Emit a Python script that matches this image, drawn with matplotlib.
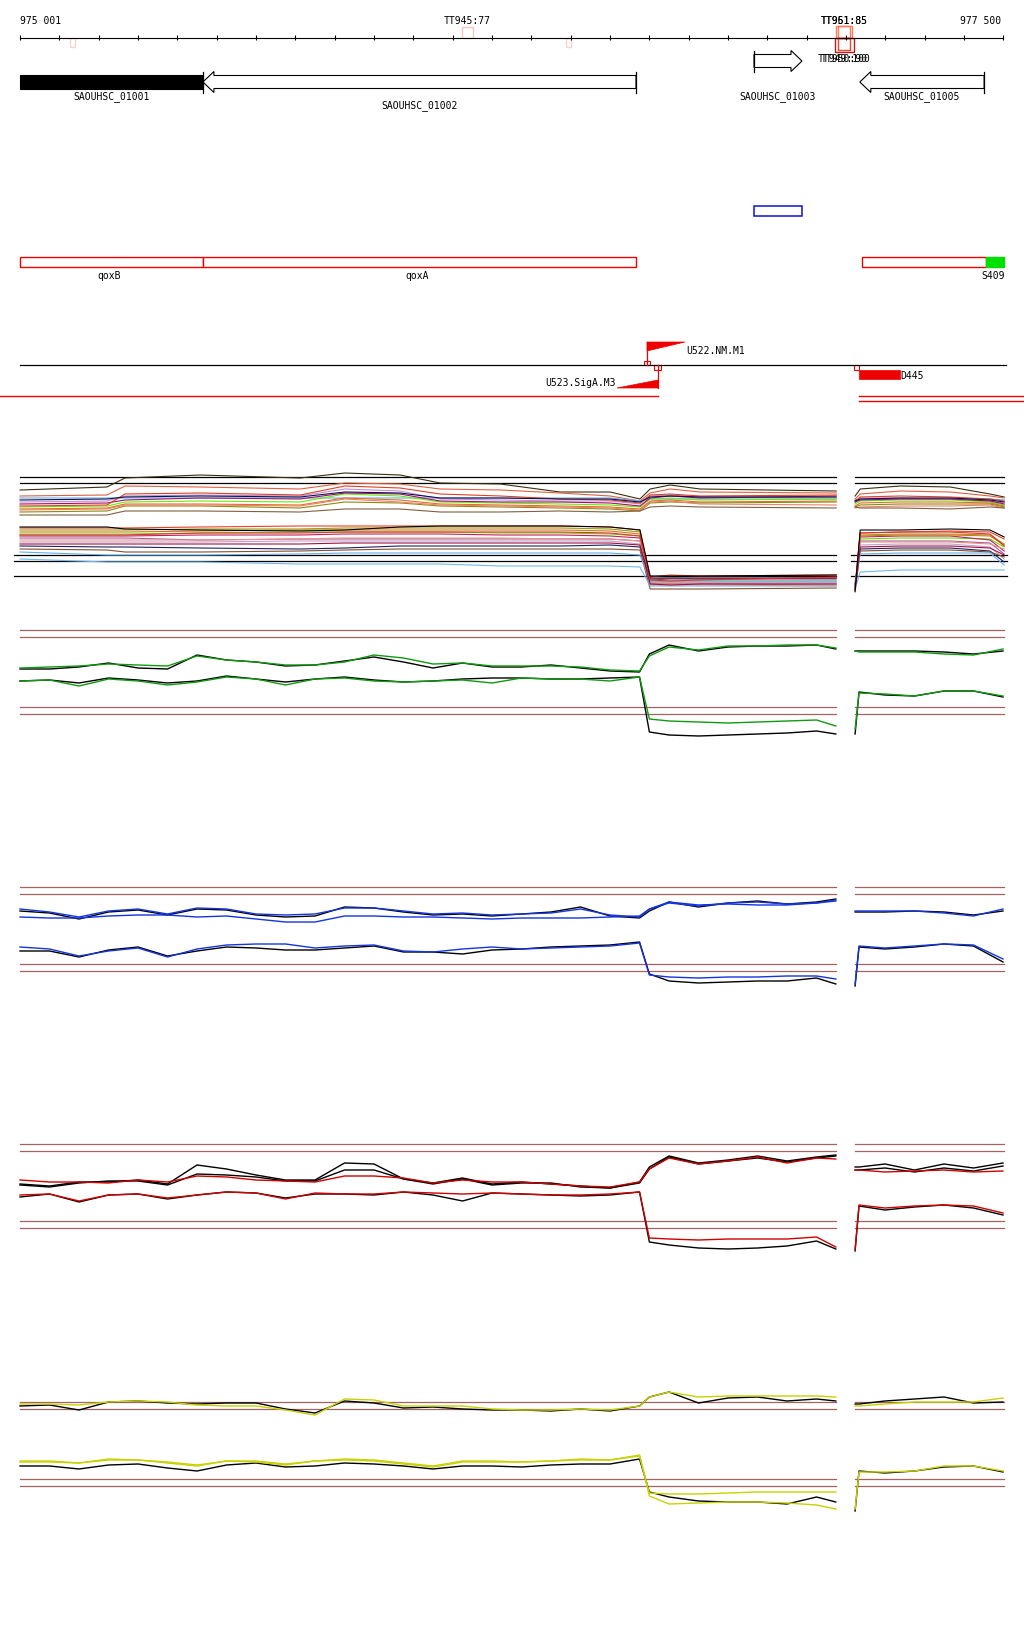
import matplotlib
matplotlib.use('Agg')
import matplotlib.pyplot as plt
from matplotlib.patches import Polygon, Rectangle

# ---------------- data ----------------
VIEW_START, VIEW_END = 975001, 977500

GENE_NAMES = ['SAOUHSC_01001', 'SAOUHSC_01002', 'SAOUHSC_01003', 'SAOUHSC_01005']
GENE_START = [974200, 975466, 976867, 977136]
GENE_END = [975466, 976567, 976989, 977452]
GENE_STRAND = ['-', '-', '+', '-']

TERM_NAMES = ['', 'TT945:77', '', 'TT951:85', 'TT961:85', 'TT949:100', 'TT950:90']
TERM_START = [975128, 976125, 976389, 977075, 977080, 977072, 977080]
TERM_END = [975141, 976153, 976402, 977116, 977111, 977121, 977111]
TERM_STRAND = ['-', '+', '-', '+', '+', '-', '-']
TERM_SCORE = [70, 77, 70, 85, 85, 100, 90]

REGION_START = [976867]
REGION_END = [976989]

OPERON_NAMES = ['qoxB', 'qoxA', '', 'S409']
OPERON_START = [974200, 975466, 977141, 977457]
OPERON_END = [975466, 976567, 977457, 977503]

TSS_NAMES = ['U522.NM.M1', 'U523.SigA.M3']
TSS_POS = [976595, 976623]
TSS_STRAND = ['+', '-']

DEL_NAMES = ['D445']
DEL_START = [977134]
DEL_END = [977238]

COV_START = [974950, 977134, 977134]
COV_END = [976623, 977560, 977560]
COV_LANE = [0, 0, 1]

# multi-sample track grid
T1X_L = [975001, 975222, 975268, 975459, 975713, 975827, 975967, 976069,
         976222, 976374, 976501, 976577, 976603, 976654, 976730, 977076]
T1X_R = [977124, 977137, 977239, 977366, 977467, 977503]
T1_THR = [122, 116, 44, 38, 23]

T1_U0 = [109,112,121,124,121,126,124,116,115,107,107,100,110,114,110,108, 103,110,113,112,105,102]
T1_U1 = [103,104,113,112,110,116,115,110,109,106,103,98,106,110,107,106, 100,105,108,107,103,101]
T1_U2 = [101,101,101,101,101,101,101,101,101,101,101,98,100,100,100,100, 99,100,100,100,100,99]
T1_U3 = [97,98,103,104,103,110,108,100,99,98,98,95,103,104,102,101, 97,101,101,100,98,96]
T1_U4 = [92,93,97,98,97,105,103,97,96,95,94,92,100,101,99,100, 95,98,99,99,97,94]
T1_U5 = [95,96,99,101,100,106,105,98,97,97,96,93,101,103,101,103, 97,99,100,100,98,95]
T1_U6 = [90,91,95,95,94,101,99,95,94,93,92,90,98,99,97,98, 93,96,97,97,96,93]
T1_U7 = [87,88,93,93,91,97,96,93,92,91,90,88,96,97,96,97, 92,94,95,95,95,92]
T1_U8 = [89,90,94,94,93,100,97,94,93,92,91,89,97,98,95,94, 91,92,93,93,94,91]
T1_U9 = [84,84,88,88,87,90,90,87,87,88,87,88,92,93,92,91, 92,91,91,90,92,91]
T1_U10 = [93,94,105,106,104,113,111,105,103,100,99,96,104,105,103,104, 98,102,103,102,100,98]
T1_U11 = [99,100,102,103,102,107,106,101,101,100,100,97,102,103,102,102, 98,100,101,101,99,97]

T1_L0 = [71,71,71,72,73,73,73,73,73,73,72,69,22,24,23,24, 10,66,67,68,67,60]
T1_L1 = [69,69,69,70,70,71,71,71,71,71,70,67,20,21,20,21, 12,64,65,65,64,55]
T1_L2 = [65,65,65,66,67,67,67,67,66,66,65,63,17,18,18,18, 14,60,61,61,60,52]
T1_L3 = [63,63,63,64,64,65,65,65,64,64,63,61,19,20,20,20, 12,62,63,63,59,48]
T1_L4 = [61,61,61,59,60,60,60,60,60,60,60,58,16,16,16,16, 10,58,58,58,56,45]
T1_L5 = [67,67,67,68,69,69,69,69,69,69,68,65,15,15,15,14, 8,63,64,64,63,54]
T1_L6 = [59,59,59,59,60,61,61,61,61,60,60,58,14,14,14,13, 11,57,57,57,55,50]
T1_L7 = [57,57,57,57,58,58,58,58,58,58,58,55,17,17,17,17, 12,54,55,55,52,40]
T1_L8 = [53,52,52,51,50,51,53,53,53,53,54,52,21,21,21,21, 15,50,51,51,48,37]
T1_L9 = [50,49,47,47,48,49,50,50,50,50,50,49,10,10,10,11, 7,48,49,49,47,42]
T1_L10 = [47,44,44,44,45,46,46,46,46,46,46,44,18,18,18,18, 17,45,46,46,46,34]
T1_L11 = [40,37,37,37,35,35,35,35,33,33,33,32,13,13,13,13, 10,27,29,29,29,29]
T1_L12 = [64,64,64,66,66,67,67,67,67,67,66,63,19,18,19,22, 12,66,67,67,65,53]
T1_L13 = [55,55,55,55,55,56,56,56,56,56,56,54,15,14,15,15, 10,52,53,53,51,44]
T1_L14 = [72,72,70,69,68,69,72,73,73,73,72,69,23,23,23,24, 8,69,69,70,69,62]

# paired-condition tracks grid
WX_L = [975001, 975076, 975151, 975226, 975301, 975376, 975451, 975526, 975601, 975676,
        975751, 975826, 975901, 975976, 976051, 976126, 976201, 976276, 976351, 976426,
        976501, 976576, 976601, 976651, 976726, 976801, 976876, 976951, 977026, 977075]
WX_R = [977124, 977134, 977200, 977275, 977350, 977425, 977500]

G_UB_L = [75,75,77,81,76,75,89,84,82,78,79,83,87,82,76,81,77,77,79,76,73,72,90,99,93,97,98,98,99,95]
G_UC_L = [76,77,78,80,79,78,88,84,82,79,79,82,89,86,80,81,78,78,78,77,74,73,88,97,94,98,98,99,99,96]
G_UB_R = [93,93,93,93,92,90,93]
G_UC_R = [93,92,92,92,90,89,95]
G_LB_L = [63,64,61,66,64,61,63,68,65,62,65,67,64,62,63,65,66,66,65,65,66,67,12,9,8,9,10,11,13,10]
G_LC_L = [63,64,58,65,63,59,62,67,65,59,65,66,63,62,63,64,61,66,65,65,63,67,25,23,22,21,22,23,24,18]
G_LB_R = [10,52,49,48,53,53,47]
G_LC_R = [15,51,50,48,53,53,48]
G_THR = [114, 107, 37, 30]

B_UB_L = [88,86,80,87,89,84,90,89,84,82,83,92,91,87,84,85,83,85,87,92,83,81,88,97,92,96,98,95,97,100]
B_UC1_L = [90,87,82,88,90,85,91,90,85,84,85,91,91,88,85,86,84,85,86,90,84,82,90,96,93,96,97,95,96,99]
B_UC2_L = [82,81,81,83,84,84,82,83,80,77,77,83,83,82,82,81,80,81,81,81,82,83,90,97,94,95,94,94,96,98]
B_UB_R = [87,87,87,88,87,84,88]
B_UC_R = [88,88,88,88,86,83,90]
B_LB_L = [48,48,42,49,52,43,48,52,51,49,49,51,53,47,47,45,49,50,52,53,54,57,25,18,16,17,18,18,21,15]
B_LC_L = [52,50,43,48,51,42,50,54,55,55,51,53,54,48,47,50,52,50,51,52,53,56,24,22,21,22,22,23,23,20]
B_LB_R = [13,52,50,52,55,53,37]
B_LC_R = [15,53,51,53,55,54,40]
B_THR = [112, 105, 35, 28]

R_UB1_L = [75,73,77,77,79,75,94,90,84,79,79,96,95,80,76,81,75,77,75,73,71,77,92,103,96,99,103,98,102,104]
R_UB2_L = [74,72,76,78,78,74,85,84,82,78,78,89,89,80,75,80,74,76,76,72,71,76,90,102,95,98,101,97,101,103]
R_UC_L = [79,77,77,76,79,77,83,82,79,78,77,83,83,81,76,79,77,77,75,73,72,77,90,101,95,98,102,96,101,100]
R_UB1_R = [92,92,95,89,95,91,96]
R_UB2_R = [89,89,91,87,91,88,93]
R_UC_R = [89,89,87,88,89,87,88]
R_LB_L = [62,65,57,64,65,60,64,67,66,61,65,65,64,67,64,58,66,65,64,63,64,67,17,14,11,10,11,13,18,10]
R_LC_L = [64,65,58,64,65,61,64,67,66,60,66,65,65,67,66,65,66,65,64,64,65,67,21,20,19,20,20,20,22,12]
R_LB_R = [8,53,49,52,54,51,44]
R_LC_R = [10,54,51,53,54,53,46]
R_THR = [115, 108, 38, 31]

Y_UB_L = [113,114,109,117,118,116,115,116,116,110,106,118,116,111,112,110,109,109,108,110,108,113,122,127,116,121,122,118,120,118]
Y_UC_L = [115,115,114,117,118,117,114,113,113,109,104,120,119,113,113,113,110,109,109,110,109,113,122,127,122,123,123,123,123,122]
Y_UB_R = [115,115,118,120,122,116,117]
Y_UC_R = [113,113,115,117,117,117,121]
Y_LB_L = [53,53,50,54,55,51,48,54,56,52,53,56,55,53,50,53,53,52,54,55,55,60,27,22,18,17,17,15,22,17]
Y_LC1_L = [57,57,56,59,59,56,53,58,57,54,58,59,58,55,52,57,57,57,58,59,59,63,26,25,25,26,27,27,27,27]
Y_LC2_L = [58,58,56,60,59,57,54,58,58,55,58,60,59,56,53,58,58,57,58,60,59,64,23,15,16,17,17,16,14,10]
Y_LB_R = [8,48,46,48,52,53,47]
Y_LC_R = [10,47,47,48,53,53,48]
Y_THR = [117, 110, 40, 33]

# ---------------- layout / style ----------------
W, H = 1024, 1640
fig = plt.figure(figsize=(W / 100, H / 100), dpi=100)
fig.patch.set_facecolor('white')
BPX = (VIEW_END - VIEW_START) / 983.0
XL = VIEW_START - 20 * BPX
XR = XL + W * BPX
FONT = dict(family='DejaVu Sans Mono', fontsize=7, color='black')
PANEL_L = (975001, 977075)
PANEL_R = (977124, 977503)
BROWN = '#a06462'


def clip(a, b):
    return max(a, VIEW_START), min(b, VIEW_END + 3 * BPX)


ax0 = fig.add_axes([0, 1 - 420 / H, 1, 420 / H])
ax0.set_xlim(XL, XR)
ax0.set_ylim(420, 0)
ax0.axis('off')

# ruler
RY = 38.5
ax0.plot([VIEW_START, VIEW_END], [RY, RY], color='black', lw=0.8)
ticks = list(range(VIEW_START, VIEW_END, 100)) + [VIEW_END]
ax0.vlines(ticks, RY - 2.5, RY + 2.5, color='black', lw=0.8)
ax0.text(VIEW_START, 20.5, '975 001', ha='left', va='center', **FONT)
ax0.text(VIEW_END - 2 * BPX, 20.5, '977 500', ha='right', va='center', **FONT)

# terminators
term_colors = {70: '#f6d4cc', 77: '#f4c8bc', 85: '#ff7a5a', 90: '#e8452e', 100: '#c01818'}
for name, s, e, st, sc in zip(TERM_NAMES, TERM_START, TERM_END, TERM_STRAND, TERM_SCORE):
    h = sc * 0.14
    y0 = RY - h if st == '+' else RY
    ax0.add_patch(Rectangle((s, y0), e - s, h, fill=False, ec=term_colors[sc], lw=1.0))
    if name:
        ly = 21 if st == '+' else 58.5
        ax0.text((s + e) / 2, ly, name, ha='center', va='center', **FONT)

# genes
gene_y = [83, 83, 62, 83]
label_y = [97, 106, 97, 97]
gene_fill = ['black', 'white', 'white', 'white']
HL = 11 * BPX
for name, s, e, st, yc, ly, fc in zip(GENE_NAMES, GENE_START, GENE_END, GENE_STRAND,
                                      gene_y, label_y, gene_fill):
    bh, hh = 6.5, 10.5
    if s < VIEW_START:
        s0 = VIEW_START
        pts = [(s0, yc - 7), (e, yc - 7), (e, yc + 7), (s0, yc + 7)]
        bar = e
    elif st == '-':
        pts = [(s, yc), (s + HL, yc - hh), (s + HL, yc - bh), (e, yc - bh), (e, yc + bh),
               (s + HL, yc + bh), (s + HL, yc + hh)]
        bar = e
    else:
        pts = [(e, yc), (e - HL, yc - hh), (e - HL, yc - bh), (s, yc - bh), (s, yc + bh),
               (e - HL, yc + bh), (e - HL, yc + hh)]
        bar = s
    ax0.add_patch(Polygon(pts, closed=True, fc=fc, ec='black', lw=0.8))
    ax0.plot([bar, bar], [yc - hh, yc + hh], color='black', lw=0.9)
    cs, ce = clip(s, e)
    ax0.text((cs + ce) / 2, ly, name, ha='center', va='center', **FONT)

# highlighted region
for s, e in zip(REGION_START, REGION_END):
    ax0.add_patch(Rectangle((s, 207), e - s, 10, fill=False, ec='#0a14d2', lw=1.1))

# operons
for name, s, e in zip(OPERON_NAMES, OPERON_START, OPERON_END):
    cs, ce = clip(s, e)
    green = name == 'S409'
    ax0.add_patch(Rectangle((cs, 258), ce - cs, 10, fc='#00e000' if green else 'white',
                            ec='#00e000' if green else '#ee0000', lw=1.0))
    if name:
        ax0.text((cs + ce) / 2 - 2 * BPX, 276, name, ha='center', va='center', **FONT)

# TSS / features line
LY = 366
ax0.plot([VIEW_START, VIEW_END + 3 * BPX], [LY, LY], color='black', lw=0.9)
for name, p, st in zip(TSS_NAMES, TSS_POS, TSS_STRAND):
    if st == '+':
        ax0.plot([p, p], [LY, 343], color='#ee0000', lw=0.9)
        ax0.add_patch(Polygon([(p, 343), (p + 38 * BPX, 343), (p, 352)], closed=True,
                              fc='#ee0000', ec='#ee0000', lw=0.5))
        ax0.add_patch(Rectangle((p - 3 * BPX, LY - 4), 6 * BPX, 4, fill=False, ec='#ee0000', lw=0.8))
        ax0.text(p + 39 * BPX, 351, name, ha='left', va='center', **FONT)
    else:
        ax0.plot([p, p], [LY, 389], color='#ee0000', lw=0.9)
        ax0.add_patch(Polygon([(p, 389), (p - 41 * BPX, 389), (p, 381)], closed=True,
                              fc='#ee0000', ec='#ee0000', lw=0.5))
        ax0.add_patch(Rectangle((p - 4 * BPX, LY), 7 * BPX, 5, fill=False, ec='#ee0000', lw=0.8))
        ax0.text(p - 42 * BPX, 383, name, ha='right', va='center', **FONT)
for name, s, e in zip(DEL_NAMES, DEL_START, DEL_END):
    ax0.add_patch(Rectangle((s - 5 * BPX, LY), 5 * BPX, 5, fill=False, ec='#ee0000', lw=0.8))
    ax0.add_patch(Rectangle((s, 371), e - s, 9, fc='#ee0000', ec='#ee0000', lw=0.5))
    ax0.text(e, 376, name, ha='left', va='center', **FONT)
for s, e, lane in zip(COV_START, COV_END, COV_LANE):
    y = 397 + 4.5 * lane
    ax0.plot([s, e], [y, y], color='#ee0000', lw=1.0)


def track_axes(top, bottom):
    ax = fig.add_axes([0, 1 - bottom / H, 1, (bottom - top) / H])
    ax.set_xlim(XL, XR)
    ax.set_ylim(0, bottom - top)
    ax.axis('off')
    return ax


def thresholds(ax, vals, color, lw=0.9, ext_l=PANEL_L, ext_r=PANEL_R):
    for v in vals:
        ax.plot(ext_l, [v, v], color=color, lw=lw)
        ax.plot(ext_r, [v, v], color=color, lw=lw)


# ---- track 1: many samples ----
ax1 = track_axes(465, 600)
thresholds(ax1, T1_THR[:2], 'black')
thresholds(ax1, T1_THR[2:], 'black', ext_l=(974986, 977075), ext_r=(977114, 977510))
upper = [T1_U0, T1_U1, T1_U2, T1_U3, T1_U4, T1_U5, T1_U6, T1_U7, T1_U8, T1_U9, T1_U10, T1_U11]
upper_c = ['#3a3010', '#e06040', '#60b0f0', '#c090d0', '#66ee00', '#a01070', '#e07020',
           '#8c8c10', '#f08070', '#806040', '#e04020', '#101050']
lower = [T1_L0, T1_L1, T1_L2, T1_L3, T1_L4, T1_L5, T1_L6, T1_L7, T1_L8, T1_L9, T1_L10,
         T1_L11, T1_L12, T1_L13, T1_L14]
lower_c = ['#f04020', '#90a010', '#66dd00', '#c02060', '#a060a0', '#e07020', '#f09080',
           '#c0a0d0', '#202060', '#805030', '#60b0f0', '#70b8f0', '#e03030', '#a01040', '#000000']
n = len(T1X_L)
for vals, c in list(zip(upper, upper_c)) + list(zip(lower, lower_c)):
    ax1.plot(T1X_L, vals[:n], color=c, lw=0.8, drawstyle='default')
    ax1.plot(T1X_R, vals[n:], color=c, lw=0.8)


def pair_track(top, bottom, thr, black_l, black_r, col_l, col_r, color):
    ax = track_axes(top, bottom)
    thresholds(ax, thr, BROWN)
    for v in black_l:
        ax.plot(WX_L, v, color='black', lw=1.0)
    for v in black_r:
        ax.plot(WX_R, v, color='black', lw=1.0)
    for v in col_l:
        ax.plot(WX_L, v, color=color, lw=1.0)
    for v in col_r:
        ax.plot(WX_R, v, color=color, lw=1.0)


pair_track(620, 745, G_THR, [G_UB_L, G_LB_L], [G_UB_R, G_LB_R],
           [G_UC_L, G_LC_L], [G_UC_R, G_LC_R], '#109a10')
pair_track(880, 1000, B_THR, [B_UB_L, B_LB_L], [B_UB_R, B_LB_R],
           [B_UC1_L, B_UC2_L, B_LC_L], [B_UC_R, B_LC_R], '#1434e0')
pair_track(1135, 1260, R_THR, [R_UB1_L, R_UB2_L, R_LB_L], [R_UB1_R, R_UB2_R, R_LB_R],
           [R_UC_L, R_LC_L], [R_UC_R, R_LC_R], '#d00000')
pair_track(1390, 1520, Y_THR, [Y_UB_L, Y_LB_L], [Y_UB_R, Y_LB_R],
           [Y_UC_L, Y_LC1_L, Y_LC2_L], [Y_UC_R, Y_LC_R], '#c8d200')

fig.savefig('out.png', dpi=100, facecolor='white')
